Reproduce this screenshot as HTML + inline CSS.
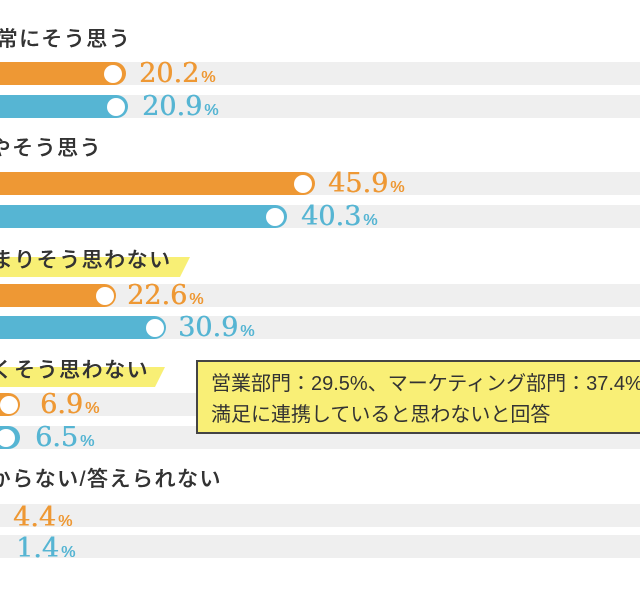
<!DOCTYPE html>
<html><head><meta charset="utf-8"><style>
body{margin:0;width:640px;height:596px;overflow:hidden;background:#fff;position:relative;font-family:"Liberation Sans","Noto Sans CJK JP",sans-serif;}
.a{position:absolute;}
.tr{position:absolute;left:0;width:640px;height:23px;background:#efefef;}
.bar{position:absolute;left:-20px;height:23px;border-radius:0 12px 12px 0;}
.o{background:#ee9834;}.b{background:#56b5d3;}
.c{position:absolute;width:18px;height:18px;border-radius:50%;background:#fff;}
.lab{position:absolute;font-size:21px;color:#333;letter-spacing:1.5px;white-space:nowrap;line-height:24px;font-weight:500;text-shadow:0.3px 0 0 #333;}
.n{position:absolute;font-family:"DejaVu Serif","Liberation Serif",serif;font-size:27px;line-height:28px;white-space:nowrap;text-shadow:0.5px 0 0 currentColor;}
.n small{font-size:16px;font-family:"Liberation Sans",sans-serif;margin-left:2px;}
.no{color:#ee9834;}.nb{color:#56b5d3;}
.hl{position:absolute;height:20px;background:#f8ef75;clip-path:polygon(0 0,100% 0,calc(100% - 10px) 100%,0 100%);}
</style></head><body>

<div class="lab" style="left:-26px;top:28px">非常にそう思う</div>
<div class="tr" style="top:62px"></div><div class="bar o" style="top:62px;width:146px"></div><div class="c" style="left:104px;top:64.5px"></div>
<div class="n no" style="left:139px;top:60px">20.2<small>%</small></div>
<div class="tr" style="top:95px"></div><div class="bar b" style="top:95px;width:148px"></div><div class="c" style="left:107px;top:97.5px"></div>
<div class="n nb" style="left:142px;top:93px">20.9<small>%</small></div>

<div class="lab" style="left:-33px;top:137px">ややそう思う</div>
<div class="tr" style="top:172px"></div><div class="bar o" style="top:172px;width:335px"></div><div class="c" style="left:294px;top:174.5px"></div>
<div class="n no" style="left:328px;top:170px">45.9<small>%</small></div>
<div class="tr" style="top:205px"></div><div class="bar b" style="top:205px;width:307px"></div><div class="c" style="left:266px;top:207.5px"></div>
<div class="n nb" style="left:301px;top:203px">40.3<small>%</small></div>

<div class="hl" style="left:0;top:257px;width:190px"></div>
<div class="lab" style="left:-31px;top:249px">あまりそう思わない</div>
<div class="tr" style="top:284px"></div><div class="bar o" style="top:284px;width:136px"></div><div class="c" style="left:96px;top:286.5px"></div>
<div class="n no" style="left:127px;top:282px">22.6<small>%</small></div>
<div class="tr" style="top:316px"></div><div class="bar b" style="top:316px;width:186px"></div><div class="c" style="left:146px;top:318.5px"></div>
<div class="n nb" style="left:178px;top:314px">30.9<small>%</small></div>

<div class="hl" style="left:0;top:367px;width:165px"></div>
<div class="lab" style="left:-31px;top:359px">全くそう思わない</div>
<div class="tr" style="top:393px"></div><div class="bar o" style="top:393px;width:40px"></div><div class="c" style="left:0px;top:395.5px"></div>
<div class="n no" style="left:40px;top:391px">6.9<small>%</small></div>
<div class="tr" style="top:426px"></div><div class="bar b" style="top:426px;width:40px"></div><div class="c" style="left:-3px;top:428.5px"></div>
<div class="n nb" style="left:35px;top:424px">6.5<small>%</small></div>

<div class="lab" style="left:-33px;top:468px">わからない/答えられない</div>
<div class="tr" style="top:504px"></div>
<div class="n no" style="left:13px;top:504px">4.4<small>%</small></div>
<div class="tr" style="top:535px"></div>
<div class="n nb" style="left:16px;top:535px">1.4<small>%</small></div>

<div class="a" style="left:196px;top:360px;width:444px;height:74px;background:#f9ef76;border:2px solid #444;border-right:none;box-sizing:border-box;overflow:hidden;">
<div style="position:absolute;left:13px;top:7px;font-size:20px;line-height:31px;color:#333;white-space:nowrap;">営業部門：29.5%、マーケティング部門：37.4%が<br>満足に連携していると思わないと回答</div>
</div>
</body></html>
